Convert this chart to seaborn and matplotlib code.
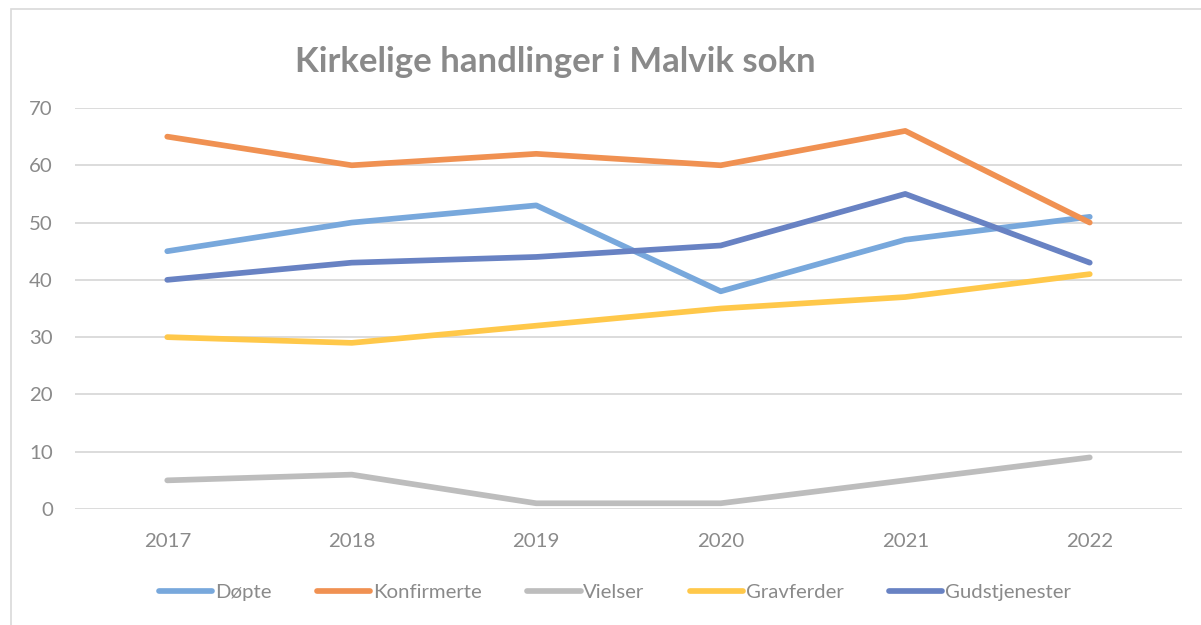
import pandas as pd
import matplotlib.pyplot as plt
import seaborn as sns
from matplotlib.patches import Rectangle

years = [2017, 2018, 2019, 2020, 2021, 2022]
series_names = ["Døpte", "Konfirmerte", "Vielser", "Gravferder", "Gudstjenester"]
dopte = [45, 50, 53, 38, 47, 51]
konfirmerte = [65, 60, 62, 60, 66, 50]
vielser = [5, 6, 1, 1, 5, 9]
gravferder = [30, 29, 32, 35, 37, 41]
gudstjenester = [40, 43, 44, 46, 55, 43]

colors = ["#78A8DC", "#F09152", "#BDBDBD", "#FFC84A", "#6882C3"]

rows = []
for name, vals in zip(series_names, [dopte, konfirmerte, vielser, gravferder, gudstjenester]):
    for y, v in zip(years, vals):
        rows.append({"year": y, "value": v, "serie": name})
df = pd.DataFrame(rows)

sns.set_style("white")
plt.rcParams["font.family"] = ["Lato", "DejaVu Sans"]

fig = plt.figure(figsize=(12.01, 6.25), dpi=100)
ax = fig.add_axes([75 / 1201, (625 - 509) / 625, (1182 - 75) / 1201, (509 - 108) / 625])

# light frame round the chart
fig.patches.append(Rectangle((11 / 1201, -0.01), 1.02, (625 - 9) / 625 + 0.01,
                             transform=fig.transFigure, fill=False,
                             edgecolor="#D9D9D9", linewidth=1.2))

sns.lineplot(data=df, x="year", y="value", hue="serie", hue_order=series_names,
             palette=colors, linewidth=4.1, ax=ax, legend=True)
for line in ax.get_lines():
    line.set_solid_capstyle("round")
    line.set_solid_joinstyle("round")
    line.set_clip_on(False)

ax.set_xlim(2016.5, 2022.5)
ax.set_ylim(0, 70)
ax.set_yticks(range(0, 71, 10))
ax.set_xticks(years)
ax.grid(axis="y", color="#D9D9D9", linewidth=1.3)
ax.set_axisbelow(True)
for s in ax.spines.values():
    s.set_visible(False)
ax.tick_params(axis="both", length=0, labelsize=14.7, labelcolor="#8A8A8A")
ax.tick_params(axis="y", pad=16)
ax.tick_params(axis="x", pad=17)
ax.set_xlabel("")
ax.set_ylabel("")

fig.text(555 / 1201, 1 - 62 / 625, "Kirkelige handlinger i Malvik sokn",
         ha="center", va="center", fontsize=25, fontweight="bold", color="#8A8A8A")

handles, labels = ax.get_legend_handles_labels()
ax.legend(handles, labels, loc="center", bbox_to_anchor=(615 / 1201, 1 - 592 / 625),
          bbox_transform=fig.transFigure, ncol=5, frameon=False, fontsize=14.7,
          labelcolor="#8A8A8A", handlelength=2.6, handletextpad=0.12, columnspacing=2.25)

fig.savefig("out.png", dpi=100)
